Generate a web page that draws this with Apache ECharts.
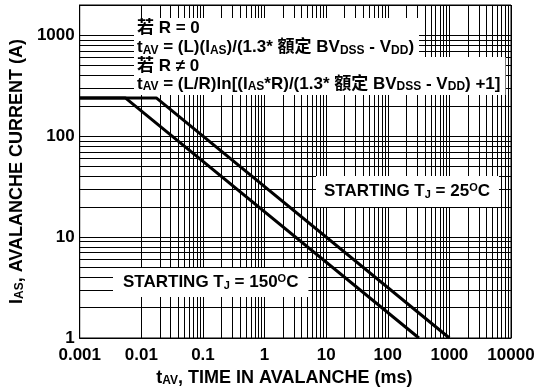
<!DOCTYPE html>
<html><head><meta charset="utf-8">
<script src="https://cdn.jsdelivr.net/npm/echarts@6/dist/echarts.min.js"></script>
<style>html,body{margin:0;padding:0;background:#fff}#c{width:541px;height:392px}</style>
</head><body><div id="c"></div>
<script>
// ---- data ----
const xTicks = [0.001, 0.01, 0.1, 1, 10, 100, 1000, 10000];
const yTicks = [1, 10, 100, 1000];
const yMax = 2000;
const minorSteps = [2, 3, 4, 5, 6, 7, 8, 9];
const curve25 = [[0.001, 240], [0.0175, 240], [1000, 1]];
const curve150 = [[0.001, 240], [0.0055, 240], [320, 1]];

const F = "Arial, 'Liberation Sans', 'Noto Sans CJK TC', sans-serif";
const xMinor = [], yMinor = [];
xTicks.slice(0, -1).forEach(d => minorSteps.forEach(k => xMinor.push({ xAxis: d * k })));
yTicks.forEach(d => minorSteps.forEach(k => { if (d * k < yMax) yMinor.push({ yAxis: d * k }); }));

function rich(sz, sub, lh) {
  return {
    n: { fontSize: sz, fontWeight: 'bold', fontFamily: F, lineHeight: lh, color: '#000' },
    s: { fontSize: sub, fontWeight: 'bold', fontFamily: F, lineHeight: 9, verticalAlign: 'bottom', color: '#000' },
    p: { fontSize: sub, fontWeight: 'bold', fontFamily: F, lineHeight: 9, verticalAlign: 'top', color: '#000' }
  };
}
function fmt(list) {
  return v => {
    const t = list.find(t => Math.abs(Math.log10(t) - Math.log10(v)) < 1e-6);
    return t === undefined ? '' : String(t);
  };
}

const chart = echarts.init(document.getElementById('c'), null, { renderer: 'canvas' });
chart.setOption({
  animation: false,
  backgroundColor: '#fff',
  grid: { left: 74, right: 30, top: 5, bottom: 54, show: true, borderColor: '#000', borderWidth: 1, backgroundColor: 'transparent' },
  xAxis: {
    type: 'log', logBase: 10, min: xTicks[0], max: xTicks[xTicks.length - 1],
    axisLine: { show: true, lineStyle: { color: '#000', width: 1 } },
    axisTick: { show: false },
    splitLine: { show: true, lineStyle: { color: '#000', width: 1 } },
    axisLabel: { formatter: fmt(xTicks), color: '#000', fontSize: 17, fontWeight: 'bold', fontFamily: F, margin: 9, showMinLabel: true, showMaxLabel: true },
    name: '{n|t}{s|AV}{n|, TIME IN AVALANCHE (ms)}',
    nameLocation: 'middle', nameGap: 28,
    nameTextStyle: { rich: rich(18, 12, 18), padding: [0, 22, 0, 0] }
  },
  yAxis: {
    type: 'log', logBase: 10, min: yTicks[0], max: yMax,
    axisLine: { show: true, lineStyle: { color: '#000', width: 1 } },
    axisTick: { show: false },
    splitLine: { show: true, lineStyle: { color: '#000', width: 1 } },
    axisLabel: { formatter: fmt(yTicks), color: '#000', fontSize: 17, fontWeight: 'bold', fontFamily: F, margin: 5 },
    name: '{n|I}{s|AS}{n|, AVALANCHE CURRENT (A)}',
    nameLocation: 'middle', nameGap: 44, nameRotate: 90,
    nameTextStyle: { rich: rich(18, 12, 18) }
  },
  series: [
    {
      type: 'line', data: [], silent: true, z: 1,
      markLine: {
        silent: true, symbol: 'none', animation: false,
        label: { show: false },
        lineStyle: { color: '#000', width: 1, type: 'solid' },
        emphasis: { disabled: true },
        data: xMinor.concat(yMinor)
      }
    },
    { name: '25', type: 'line', data: curve25, symbol: 'none', z: 5, lineStyle: { color: '#000', width: 3 } },
    { name: '150', type: 'line', data: curve150, symbol: 'none', z: 5, lineStyle: { color: '#000', width: 3 } }
  ],
  graphic: [
    {
      type: 'text', left: 134, top: 18, z: 100,
      style: {
        text: '{n|若 R = 0}\n{n|t}{s|AV}{n| = (L)(I}{s|AS}{n|)/(1.3* 額定 BV}{s|DSS}{n| - V}{s|DD}{n|)}',
        rich: rich(17, 12, 19), backgroundColor: '#fff', padding: [1, 5, 1, 3]
      }
    },
    {
      type: 'text', left: 134, top: 57, z: 100,
      style: {
        text: '{n|若 R ≠ 0}\n{n|t}{s|AV}{n| = (L/R)ln[(I}{s|AS}{n|*R)/(1.3* 額定 BV}{s|DSS}{n| - V}{s|DD}{n|) +1]}',
        rich: rich(17, 12, 18), backgroundColor: '#fff', padding: [0, 5, 2, 3]
      }
    },
    {
      type: 'text', left: 316, top: 176, z: 100,
      style: {
        text: '{n|STARTING T}{s|J}{n| = 25}{p|O}{n|C}',
        rich: rich(17, 11, 18), backgroundColor: '#fff', padding: [6, 9, 7, 8]
      }
    },
    {
      type: 'text', left: 113, top: 268, z: 100,
      style: {
        text: '{n|STARTING T}{s|J}{n| = 150}{p|O}{n|C}',
        rich: rich(17, 11, 18), backgroundColor: '#fff', padding: [5, 10, 6, 10]
      }
    }
  ]
});
</script></body></html>
